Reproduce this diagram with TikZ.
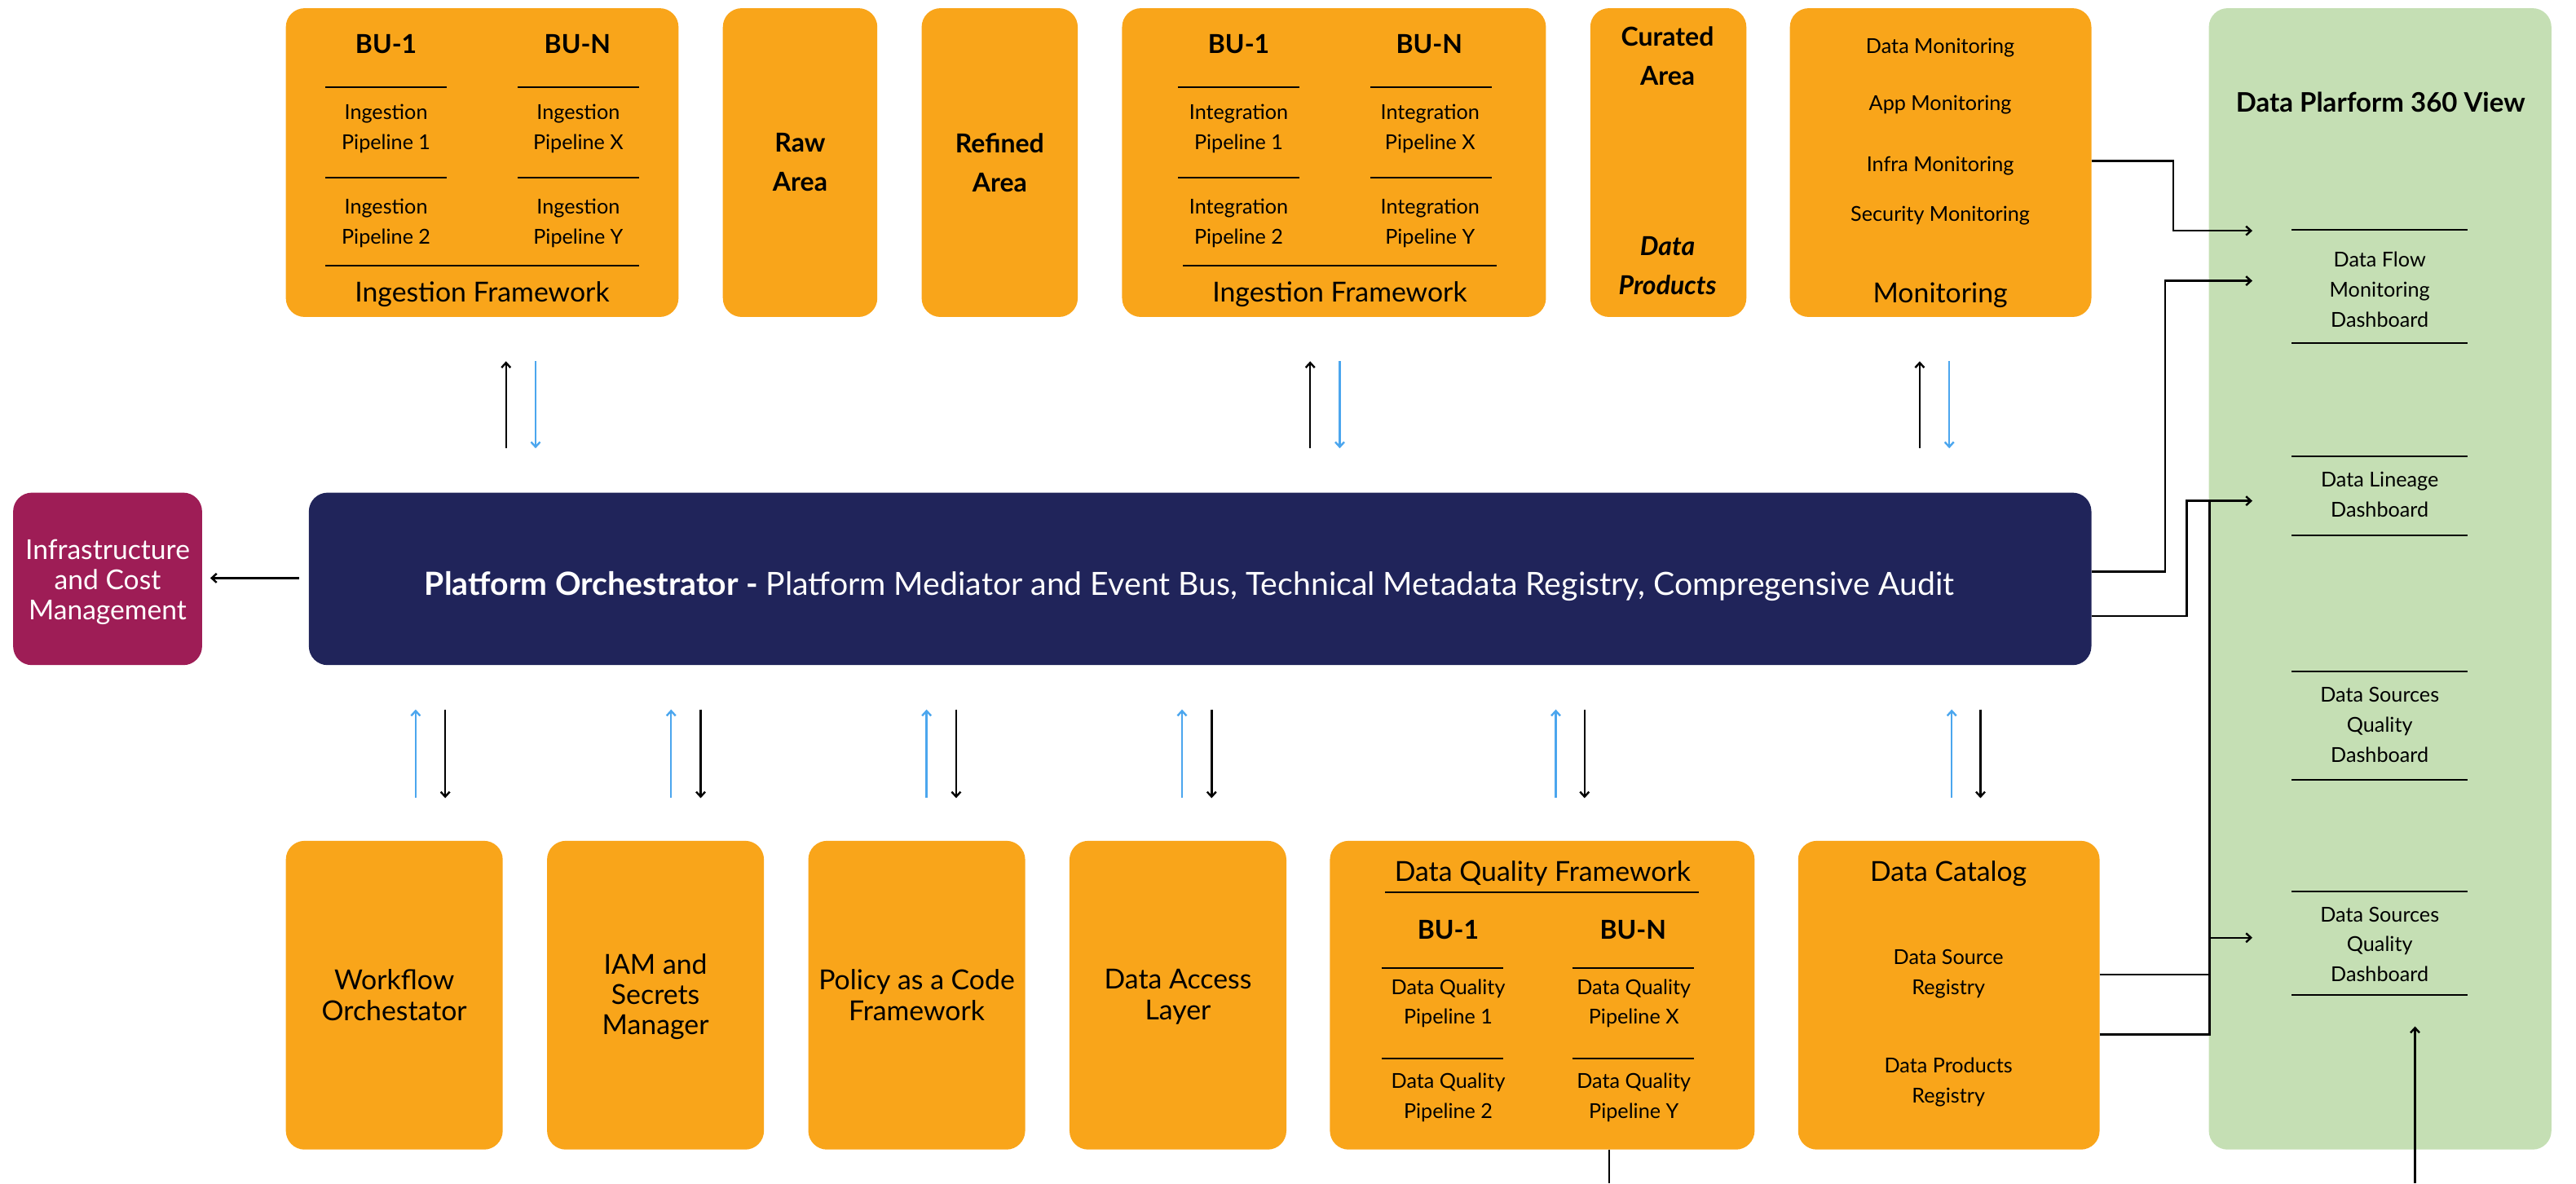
\documentclass[tikz,border=0pt]{standalone}
\usepackage{fontspec}
\setmainfont{Lato}
\usetikzlibrary{arrows.meta,fit}
\definecolor{orangefill}{HTML}{F9A51A}
\definecolor{navyfill}{HTML}{20245A}
\definecolor{wine}{HTML}{9E1D56}
\definecolor{greenfill}{HTML}{C5DFB4}
\definecolor{bluearrow}{HTML}{4BA6EE}
\tikzset{
  panel/.style={inner sep=0pt,outer sep=0pt,rounded corners=11.5pt,draw=none},
  orangebox/.style={panel,fill=orangefill},
  navybox/.style={panel,fill=navyfill},
  winebox/.style={panel,fill=wine},
  greenbox/.style={panel,fill=greenfill},
  small/.style={align=center,inner sep=0pt,yshift=-1pt,font=\fontsize{12.6}{18.4}\selectfont},
  mid/.style={align=center,inner sep=0pt,yshift=-1pt,font=\fontsize{16.9}{18.6}\selectfont},
  head/.style={align=center,inner sep=0pt,font=\fontsize{16}{24}\selectfont\bfseries},
  bu/.style={inner sep=0pt,font=\fontsize{16}{24}\selectfont\bfseries},
  rulel/.style={line width=1pt,black},
  conn/.style={line width=1.2pt,black,>={Straight Barb[length=3pt,width=5.5pt]}},
  blueconn/.style={conn,bluearrow},
}
\begin{document}
\begin{tikzpicture}[x=1.00765pt,y=-1.00765pt]
\useasboundingbox (0,0) rectangle (1568,720.5);
% panels
\node[orangebox,fit={(174,5)(413,193)}] (ingest) {};
\node[orangebox,fit={(440,5)(534,193)}] (raw) {};
\node[orangebox,fit={(561,5)(656,193)}] (refined) {};
\node[orangebox,fit={(683,5)(941,193)}] (integ) {};
\node[orangebox,fit={(968,5)(1063,193)}] (curated) {};
\node[orangebox,fit={(1089.5,5)(1273,193)}] (monitor) {};
\node[greenbox,fit={(1344.5,5)(1553,700)}] (view) {};
\node[winebox,fit={(8,300)(123,405)}] (infra) {};
\node[navybox,fit={(188,300)(1273,405)}] (orch) {};
\node[orangebox,fit={(174,512)(306,700)}] (wf) {};
\node[orangebox,fit={(333,512)(465,700)}] (iam) {};
\node[orangebox,fit={(492,512)(624,700)}] (policy) {};
\node[orangebox,fit={(651,512)(783,700)}] (dal) {};
\node[orangebox,fit={(809.5,512)(1068,700)}] (dq) {};
\node[orangebox,fit={(1094.5,512)(1278,700)}] (catalog) {};
% ingestion framework
\node[bu] (t1) at (235,27) {BU-1};
\node[bu] (t2) at (351.5,27) {BU-N};
\draw[rulel] (198,53)--(272,53) (315,53)--(389,53) (198,108)--(272,108) (315,108)--(389,108) (198,162)--(389,162);
\node[small] (t3) at (235,77.5) {Ingestion\\Pipeline 1};
\node[small] (t4) at (352,77.5) {Ingestion\\Pipeline X};
\node[small] (t5) at (235,135) {Ingestion\\Pipeline 2};
\node[small] (t6) at (352,135) {Ingestion\\Pipeline Y};
\node[mid] (t7) at (293.5,178) {Ingestion Framework};
% raw, refined
\node[head] (t8) at (487,99) {Raw\\Area};
\node[head] (t9) at (608.5,99) {Refined\\Area};
% integration
\node[bu] (t10) at (754,27) {BU-1};
\node[bu] (t11) at (870,27) {BU-N};
\draw[rulel] (717,53)--(791,53) (834,53)--(908,53) (717,108)--(791,108) (834,108)--(908,108) (720,162)--(911,162);
\node[small] (t12) at (754,77.5) {Integration\\Pipeline 1};
\node[small] (t13) at (870.5,77.5) {Integration\\Pipeline X};
\node[small] (t14) at (754,135) {Integration\\Pipeline 2};
\node[small] (t15) at (870.5,135) {Integration\\Pipeline Y};
\node[mid] (t16) at (815.5,178) {Ingestion Framework};
% curated
\node[head] (t17) at (1015,34) {Curated\\Area};
\node[head,font=\fontsize{16}{24}\selectfont\bfseries\itshape] (t18) at (1015,162) {Data\\Products};
% monitoring
\node[small] (t19) at (1181,28) {Data Monitoring};
\node[small] (t20) at (1181,63) {App Monitoring};
\node[small] (t21) at (1181,100) {Infra Monitoring};
\node[small] (t22) at (1181,130.5) {Security Monitoring};
\node[mid] (t23) at (1181,179) {Monitoring};
% view
\node[inner sep=0pt,font=\fontsize{16.5}{18}\selectfont\bfseries] (t24) at (1449,62) {Data Plarform 360 View};
\draw[rulel] (1395,140)--(1502,140) (1395,209)--(1502,209) (1395,278)--(1502,278) (1395,326)--(1502,326) (1395,409)--(1502,409) (1395,475)--(1502,475) (1395,543)--(1502,543) (1395,606)--(1502,606);
\node[small] (t25) at (1448.5,175.3) {Data Flow\\Monitoring\\Dashboard};
\node[small] (t26) at (1448.5,300) {Data Lineage\\Dashboard};
\node[small] (t27) at (1448.5,440.5) {Data Sources\\Quality\\Dashboard};
\node[small] (t28) at (1448.5,574) {Data Sources\\Quality\\Dashboard};
% infra + orchestrator
\node[align=center,inner sep=0pt,text=white,yshift=-1pt,font=\fontsize{16.8}{18.4}\selectfont] (t29) at (65.5,353.5) {Infrastructure\\and Cost\\Management};
\node[inner sep=0pt,text=white,yshift=-1pt,font=\fontsize{19.6}{22}\selectfont] (t30) at (724,356) {\textbf{Platform Orchestrator -} Platform Mediator and Event Bus, Technical Metadata Registry, Compregensive Audit};
% bottom
\node[mid] (t31) at (240,605) {Workflow\\Orchestator};
\node[mid] (t32) at (399,606) {IAM and\\Secrets\\Manager};
\node[mid] (t33) at (558,605) {Policy as a Code\\Framework};
\node[mid] (t34) at (717,606) {Data Access\\Layer};
\node[mid] (t35) at (939,531) {Data Quality Framework};
\draw[rulel] (843,543.5)--(1034,543.5);
\node[bu] (t36) at (881.5,566) {BU-1};
\node[bu] (t37) at (994,566) {BU-N};
\draw[rulel] (841,589.5)--(915,589.5) (957,589.5)--(1031,589.5) (841,644.5)--(915,644.5) (957,644.5)--(1031,644.5);
\node[small] (t38) at (881.5,610) {Data Quality\\Pipeline 1};
\node[small] (t39) at (994.5,610) {Data Quality\\Pipeline X};
\node[small] (t40) at (881.5,667.5) {Data Quality\\Pipeline 2};
\node[small] (t41) at (994.5,667.5) {Data Quality\\Pipeline Y};
\node[mid] (t42) at (1186,531) {Data Catalog};
\node[small] (t43) at (1186,592) {Data Source\\Registry};
\node[small] (t44) at (1186,658) {Data Products\\Registry};
% arrow end points
\foreach \n/\x in {a/308,c/797.5,e/1168.5}{
  \coordinate (\n s) at (\x,273); \coordinate (\n e) at (\x,220);}
\foreach \n/\x in {b/326,d/815.5,f/1186.5}{
  \coordinate (\n s) at (\x,220); \coordinate (\n e) at (\x,273);}
\draw[conn,->] (as)--(ae); \draw[blueconn,->] (bs)--(be);
\draw[conn,->] (cs)--(ce); \draw[blueconn,->] (ds)--(de);
\draw[conn,->] (es)--(ee); \draw[blueconn,->] (fs)--(fe);
\foreach \x/\y in {253/271,408.5/426.5,564/582,719.5/737.5,947/964.5,1188/1205.5}{
  \coordinate (u) at (\x,486); \coordinate (uu) at (\x,432);
  \coordinate (w) at (\y,432); \coordinate (ww) at (\y,486);
  \draw[blueconn,->] (u)--(uu);
  \draw[conn,->] (w)--(ww);
}
\coordinate (il) at (182,352); \coordinate (ir) at (128,352);
\draw[conn,->] (il)--(ir);
% right hand connectors
\coordinate (mout) at (1273,98);
\coordinate (flowa) at (1371,140.5);
\coordinate (flowb) at (1371,171);
\coordinate (lin) at (1371,305);
\coordinate (qual) at (1371,571);
\coordinate (oa) at (1273,348);
\coordinate (ob) at (1273,375);
\coordinate (ca) at (1278,593.5);
\coordinate (cb) at (1278,630);
\coordinate (bus) at (1345,630);
\coordinate (bustop) at (1345,305);
\coordinate (busq) at (1345,571);
\coordinate (busa) at (1345,593.5);
\coordinate (dqo) at (979.5,720.5);
\coordinate (dqi) at (979.5,700);
\coordinate (vo) at (1470,720.5);
\coordinate (vi) at (1470,625);
\draw[conn,->] (mout)-|(1323,140.5)--(flowa);
\draw[conn,->] (oa)-|(1318,171)--(flowb);
\draw[conn,->] (ob)-|(1331,305)--(lin);
\draw[conn] (cb)--(bus)--(bustop);
\draw[conn] (ca)--(busa);
\draw[conn,->] (busq)--(qual);
\draw[conn] (dqi)--(dqo);
\draw[conn,->] (vo)--(vi);
\end{tikzpicture}
\end{document}
